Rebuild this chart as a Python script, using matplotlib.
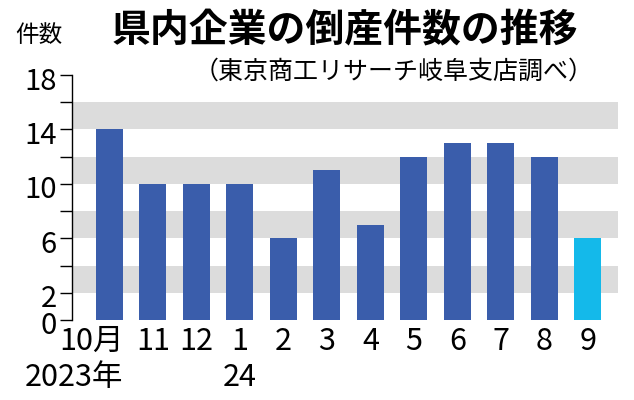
import numpy as np
import matplotlib.pyplot as plt
from matplotlib.transforms import ScaledTranslation

# data
months = ['10月', '11', '12', '1', '2', '3', '4', '5', '6', '7', '8', '9']
counts = [14, 10, 10, 10, 6, 11, 7, 12, 13, 13, 12, 6]
year_labels = [(0, '2023年'), (3, '24')]
yticks = [0, 2, 4, 6, 8, 10, 12, 14, 16, 18]
ylabels = ['0', '2', '', '6', '', '10', '', '14', '', '18']
bands = [(2, 4), (6, 8), (10, 12), (14, 16)]

plt.rcParams['font.family'] = ['Liberation Sans Narrow', 'Noto Sans CJK JP', 'DejaVu Sans']

fig = plt.figure(figsize=(6.34, 4.0), dpi=100)
ax = fig.add_axes([72/634, 1-320/400, (618-72)/634, (320-75)/400])

for lo, hi in bands:
    ax.axhspan(lo, hi, color='#dcdcdc', lw=0, zorder=0)

x = np.arange(len(counts))
colors = ['#3a5dab'] * (len(counts) - 1) + ['#14b9ea']
ax.bar(x, counts, width=0.62, color=colors, zorder=2)

ax.set_xlim(-0.86, 11.69)
ax.set_ylim(0, 18)
ax.set_yticks(yticks)
ax.set_yticklabels(ylabels, fontsize=21)
ax.set_xticks(x)
ax.set_xticklabels(months, fontsize=22)
ax.tick_params(axis='x', length=0, pad=4)
ax.tick_params(axis='y', length=9, width=1, pad=2)

# shift y labels slightly down like the original
down = ScaledTranslation(0, -3/100, fig.dpi_scale_trans)
for lab in ax.get_yticklabels():
    lab.set_transform(lab.get_transform() + down)

# first month label ends at the right edge of its bar
first = ax.get_xticklabels()[0]
first.set_ha('right')
first.set_transform(first.get_transform() + ScaledTranslation(14/100, 0, fig.dpi_scale_trans))

for pos, lab in year_labels:
    if pos == 0:
        ax.text(pos + 0.31, -4.2, lab, ha='right', va='center', fontsize=22, clip_on=False)
    else:
        ax.text(pos, -4.2, lab, ha='center', va='center', fontsize=22, clip_on=False)

for s in ['top', 'right', 'bottom']:
    ax.spines[s].set_visible(False)
ax.spines['left'].set_linewidth(1)

fig.text(112/634, 1-31/400, '県内企業の倒産件数の推移', fontsize=28, fontweight='bold',
         family=['Noto Sans CJK JP'], ha='left', va='center')
fig.text(594/634, 1-72/400, '（東京商工リサーチ岐阜支店調べ）', fontsize=18,
         family=['Noto Sans CJK JP'], ha='right', va='center')
fig.text(15/634, 1-35/400, '件数', fontsize=17,
         family=['Noto Sans CJK JP'], ha='left', va='center')

fig.savefig('out.png', dpi=100)
